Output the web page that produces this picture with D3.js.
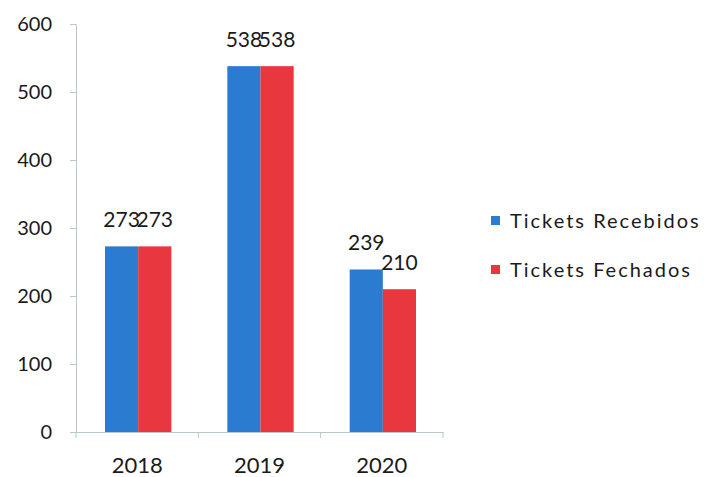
<!DOCTYPE html>
<html>
<head>
<meta charset="utf-8">
<script src="https://cdn.jsdelivr.net/npm/d3@7"></script>
<style>
  body { margin: 0; background: #fff; }
  text { font-family: Lato, "Open Sans", sans-serif; fill: #1a1a1a; }
</style>
</head>
<body>
<div id="chart"></div>
<script>
const years = ["2018", "2019", "2020"];
const series = ["Tickets Recebidos", "Tickets Fechados"];
const recebidos = [273, 538, 239];
const fechados = [273, 538, 210];
const yTicks = [0, 100, 200, 300, 400, 500, 600];
const colors = ["#2b7bd0", "#e8373f"];

const rows = years.map((y, i) => ({ year: y, values: [recebidos[i], fechados[i]] }));

const margin = { top: 24, left: 76 };
const width = 367;
const height = 408;

const svg = d3.select("#chart")
  .append("svg")
  .attr("width", 704)
  .attr("height", 477);

const g = svg.append("g")
  .attr("transform", `translate(${margin.left},${margin.top})`);

const x = d3.scaleBand()
  .domain(years)
  .range([0, width])
  .paddingInner(0)
  .paddingOuter(0);

const xInner = d3.scaleBand()
  .domain(series)
  .range([29, x.bandwidth() - 27]);

const y = d3.scaleLinear()
  .domain([0, 600])
  .range([height, 0]);

// y axis
const yAxis = g.append("g")
  .call(d3.axisLeft(y).tickValues(yTicks).tickSize(6).tickPadding(18));
yAxis.select(".domain").attr("stroke", "#b9c9c9");
yAxis.selectAll(".tick line").attr("stroke", "#b9c9c9");
yAxis.selectAll(".tick text").attr("font-size", 20).attr("fill", "#1a1a1a");

// bars
const groups = g.selectAll(".grp")
  .data(rows)
  .enter()
  .append("g")
  .attr("transform", (d) => `translate(${x(d.year)},0)`);

groups.selectAll("rect")
  .data((d) => d.values.map((v, i) => ({ key: series[i], v, i })))
  .enter()
  .append("rect")
  .attr("x", (d) => xInner(d.key))
  .attr("y", (d) => y(d.v))
  .attr("width", xInner.bandwidth())
  .attr("height", (d) => height - y(d.v))
  .attr("fill", (d) => colors[d.i]);

groups.selectAll(".lbl")
  .data((d) => d.values.map((v, i) => ({ key: series[i], v, i })))
  .enter()
  .append("text")
  .attr("class", "lbl")
  .attr("x", (d) => xInner(d.key) + xInner.bandwidth() / 2)
  .attr("y", (d) => y(d.v) - 19)
  .attr("text-anchor", "middle")
  .attr("font-size", 21)
  .text((d) => d.v);

// x axis
const xAxis = g.append("g")
  .attr("transform", `translate(0,${height})`)
  .call(d3.axisBottom(x).tickSize(0).tickPadding(25));
xAxis.select(".domain").attr("stroke", "#b9c9c9");
xAxis.selectAll(".tick text").attr("font-size", 22).attr("fill", "#1a1a1a");

g.append("g")
  .selectAll("line")
  .data(years.concat(["end"]))
  .enter()
  .append("line")
  .attr("x1", (d, i) => i * x.step())
  .attr("x2", (d, i) => i * x.step())
  .attr("y1", height)
  .attr("y2", height + 6)
  .attr("stroke", "#b9c9c9");

// legend
const legend = svg.append("g").attr("transform", "translate(491,220)");
series.forEach((s, i) => {
  const row = legend.append("g").attr("transform", `translate(0,${i * 49})`);
  row.append("rect")
    .attr("x", 0)
    .attr("y", -4)
    .attr("width", 9)
    .attr("height", 9)
    .attr("fill", colors[i]);
  row.append("text")
    .attr("x", 19)
    .attr("y", 8)
    .attr("font-size", 20)
    .attr("letter-spacing", 2)
    .text(s);
});
</script>
</body>
</html>
